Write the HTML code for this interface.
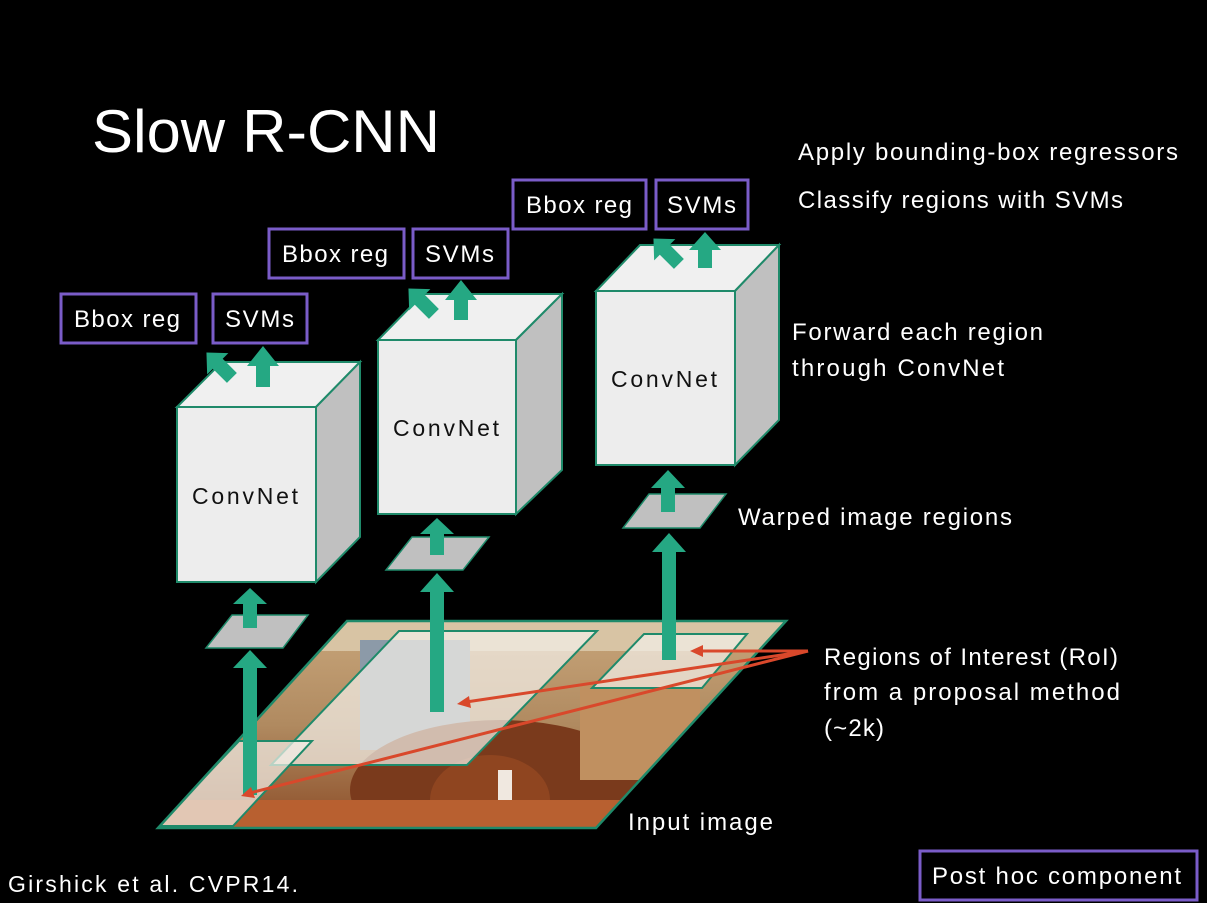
<!DOCTYPE html>
<html><head><meta charset="utf-8"><style>
html,body{margin:0;padding:0;background:#000;}
svg{display:block}
text{font-family:"Liberation Sans",sans-serif;}
</style></head><body>
<svg width="1207" height="903" viewBox="0 0 1207 903" xmlns="http://www.w3.org/2000/svg">
<defs>
<clipPath id="img"><polygon points="347,621 786,621 596,828 158,828"/></clipPath>
<linearGradient id="bg" x1="0" y1="0" x2="0" y2="1">
<stop offset="0" stop-color="#c9a77c"/><stop offset="0.5" stop-color="#b08a60"/><stop offset="1" stop-color="#8a4a25"/></linearGradient>
</defs>
<rect width="1207" height="903" fill="#000"/>
<text x="92" y="152" font-size="60" fill="#fff" textLength="348" lengthAdjust="spacingAndGlyphs">Slow R-CNN</text>
<g font-size="24" fill="#fff" lengthAdjust="spacingAndGlyphs">
<text x="798" y="160" textLength="380">Apply bounding-box regressors</text>
<text x="798" y="208" textLength="325">Classify regions with SVMs</text>
<text x="792" y="340" textLength="251">Forward each region</text>
<text x="792" y="376" textLength="212">through ConvNet</text>
<text x="738" y="525" textLength="274">Warped image regions</text>
<text x="824" y="665" textLength="294">Regions of Interest (RoI)</text>
<text x="824" y="700" textLength="296">from a proposal method</text>
<text x="824" y="736" textLength="60">(~2k)</text>
<text x="628" y="830" textLength="145">Input image</text>
<text x="8" y="892" font-size="23" textLength="290">Girshick et al. CVPR14.</text>
</g>
<!-- input image -->
<g clip-path="url(#img)">
<rect x="150" y="615" width="650" height="220" fill="url(#bg)"/>
<rect x="150" y="621" width="650" height="30" fill="#d8c4a4"/>
<rect x="360" y="640" width="110" height="110" fill="#8c9aa8"/>
<ellipse cx="500" cy="790" rx="150" ry="70" fill="#7a3a1c"/>
<ellipse cx="490" cy="800" rx="60" ry="45" fill="#8f4520"/>
<rect x="498" y="770" width="14" height="45" fill="#f0e8e0"/>
<rect x="580" y="680" width="120" height="100" fill="#c09060"/>
<rect x="150" y="800" width="650" height="35" fill="#b86030"/>
<polygon points="399,631 597,631 467,765 271,765" fill="#f2efe8" fill-opacity="0.72" stroke="#1f8a6a" stroke-width="2"/>
<polygon points="644,634 747,634 702,688 592,688" fill="#f2efe8" fill-opacity="0.72" stroke="#1f8a6a" stroke-width="2"/>
<polygon points="239,741 312,741 233,826 158,826" fill="#f2efe8" fill-opacity="0.72" stroke="#1f8a6a" stroke-width="2"/>
</g>
<polygon points="347,621 786,621 596,828 158,828" fill="none" stroke="#1f8a6a" stroke-width="2.5"/>
<!-- cubes -->
<g stroke="#1f8a6a" stroke-width="2">
<polygon points="177,407 222,362 360,362 316,407" fill="#f0f0f0"/>
<polygon points="316,407 360,362 360,537 316,582" fill="#c0c0c0"/>
<rect x="177" y="407" width="139" height="175" fill="#ededed"/>
<polygon points="378,340 423,294 562,294 516,340" fill="#f0f0f0"/>
<polygon points="516,340 562,294 562,470 516,514" fill="#c0c0c0"/>
<rect x="378" y="340" width="138" height="174" fill="#ededed"/>
<polygon points="596,291 640,245 779,245 735,291" fill="#f0f0f0"/>
<polygon points="735,291 779,245 779,420 735,465" fill="#c0c0c0"/>
<rect x="596" y="291" width="139" height="174" fill="#ededed"/>
</g>
<g font-size="23" fill="#111" lengthAdjust="spacingAndGlyphs">
<text x="192" y="504" textLength="106">ConvNet</text>
<text x="393" y="436" textLength="106">ConvNet</text>
<text x="611" y="387" textLength="106">ConvNet</text>
</g>
<!-- warped regions -->
<g fill="#c0c0c0" stroke="#1f8a6a" stroke-width="1.5">
<polygon points="232,615 308,615 283,648 206,648"/>
<polygon points="412,537 489,537 463,570 386,570"/>
<polygon points="649,494 726,494 700,528 623,528"/>
</g>
<!-- green arrows -->
<g fill="#25a883">
<polygon points="243,795 257,795 257,668 267,668 250,650 233,668 243,668"/>
<polygon points="243,628 257,628 257,604 267,604 250,588 233,604 243,604"/>
<polygon points="430,712 444,712 444,592 454,592 437,573 420,592 430,592"/>
<polygon points="430,555 444,555 444,534 454,534 437,518 420,534 430,534"/>
<polygon points="662,660 676,660 676,552 686,552 669,533 652,552 662,552"/>
<polygon points="661,512 675,512 675,488 685,488 668,470 651,488 661,488"/>
<polygon points="256,387 270,387 270,366 279,366 263,346 247,366 256,366"/>
<polygon points="454,320 468,320 468,300 477,300 461,280 445,300 454,300"/>
<polygon points="698,268 712,268 712,250 721,250 705,232 689,250 698,250"/>
<g transform="translate(222,368) rotate(-45)"><polygon points="-7,14 7,14 7,-6 15,-6 0,-22 -15,-6 -7,-6"/></g>
<g transform="translate(424,304) rotate(-45)"><polygon points="-7,14 7,14 7,-6 15,-6 0,-22 -15,-6 -7,-6"/></g>
<g transform="translate(669,254) rotate(-45)"><polygon points="-7,14 7,14 7,-6 15,-6 0,-22 -15,-6 -7,-6"/></g>
</g>
<!-- red arrows -->
<g stroke="#d9482b" stroke-width="3" fill="none">
<line x1="808" y1="651" x2="700" y2="651"/>
<line x1="808" y1="651" x2="466" y2="702"/>
<line x1="808" y1="651" x2="250" y2="793"/>
</g>
<g fill="#d9482b">
<polygon points="690,651 703,645 703,657"/>
<polygon points="457,704 469,696 471,708"/>
<polygon points="241,796 251,787 255,798"/>
</g>
<!-- purple boxes -->
<g fill="none" stroke="#7a5cc8" stroke-width="3">
<rect x="61" y="294" width="135" height="49"/>
<rect x="213" y="294" width="94" height="49"/>
<rect x="269" y="229" width="135" height="49"/>
<rect x="413" y="229" width="95" height="49"/>
<rect x="513" y="180" width="133" height="49"/>
<rect x="656" y="180" width="92" height="49"/>
<rect x="920" y="851" width="277" height="49"/>
</g>
<g font-size="24" fill="#fff" lengthAdjust="spacingAndGlyphs">
<text x="74" y="327" textLength="106">Bbox reg</text>
<text x="225" y="327" textLength="69">SVMs</text>
<text x="282" y="262" textLength="106">Bbox reg</text>
<text x="425" y="262" textLength="69">SVMs</text>
<text x="526" y="213" textLength="106">Bbox reg</text>
<text x="667" y="213" textLength="69">SVMs</text>
<text x="932" y="884" textLength="249">Post hoc component</text>
</g>
</svg>
</body></html>
